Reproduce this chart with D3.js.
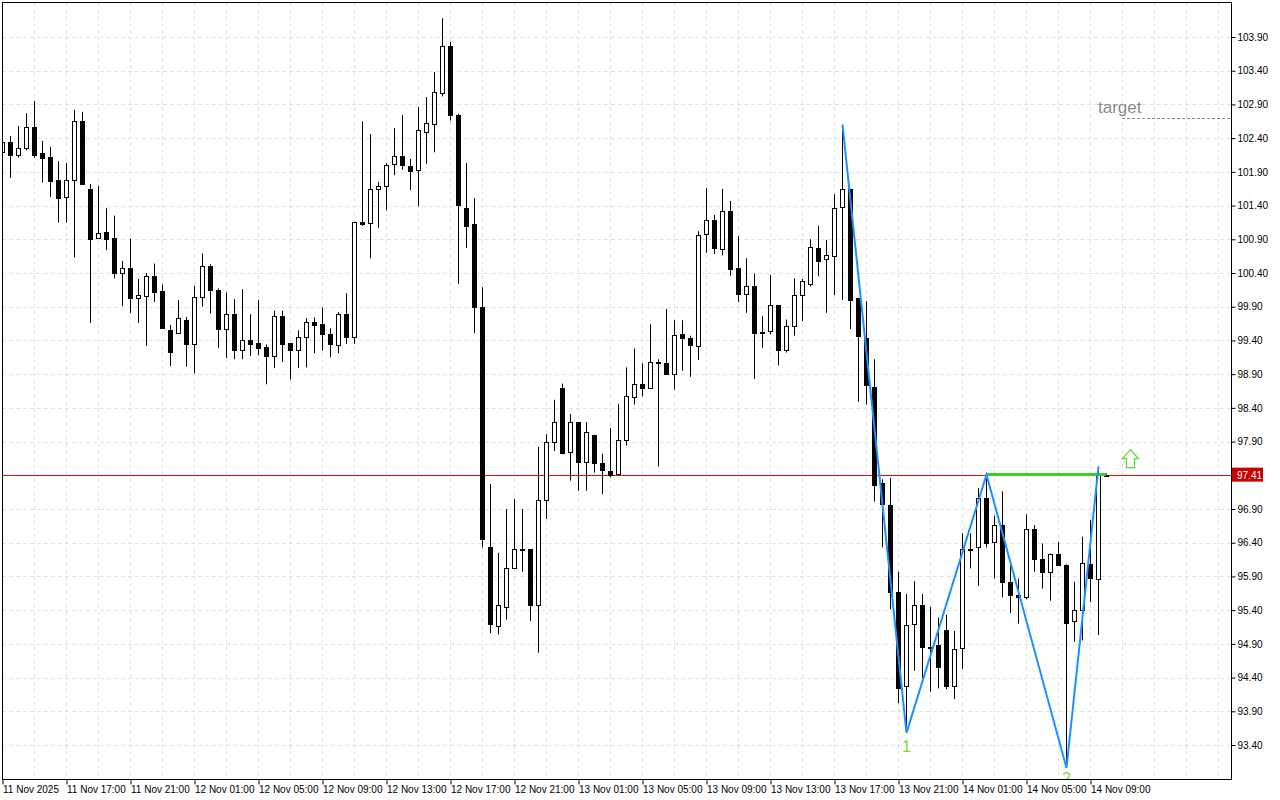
<!DOCTYPE html>
<html>
<head>
<meta charset="utf-8">
<script src="https://cdn.jsdelivr.net/npm/d3@7/dist/d3.min.js"></script>
<style>
  body { margin: 0; background: #fff; }
  svg { display: block; font-family: "Liberation Sans", Arial, sans-serif; }
</style>
</head>
<body>
<svg id="chart" width="1280" height="800"></svg>
<script>
// velas de 30 min, desde 11 Nov 13:00
const opens  = [102.19,102.34,102.15,102.25,102.56,102.18,102.12,101.78,101.53,101.77,102.65,101.65,100.91,101.01,100.92,100.40,100.48,100.03,100.06,100.35,100.13,99.55,99.51,99.71,99.35,100.04,100.50,100.15,99.57,99.79,99.26,99.41,99.36,99.30,99.16,99.76,99.36,99.26,99.45,99.67,99.64,99.49,99.33,99.79,99.45,101.16,101.14,101.65,101.69,102.01,102.13,101.99,101.92,102.50,102.62,103.06,103.76,102.74,101.37,101.13,99.90,96.34,95.16,95.44,96.02,96.30,96.30,95.47,97.03,97.89,98.69,97.75,98.19,97.60,98.00,97.58,97.47,97.41,97.92,98.57,98.76,98.70,99.08,99.06,98.90,99.49,99.43,99.32,100.97,101.18,100.76,101.32,100.47,100.08,100.20,99.52,99.54,99.92,99.26,99.61,100.07,100.23,100.77,100.60,100.66,101.39,101.65,100.03,99.43,98.71,97.28,96.96,95.67,94.27,95.19,95.47,94.86,94.88,95.11,94.28,94.83,96.31,96.34,97.07,96.41,96.66,95.81,95.62,95.59,96.60,96.16,95.96,96.23,96.07,95.23,95.41,96.08,95.87,97.41]
const highs  = [102.52,102.43,102.58,102.77,102.95,102.36,102.27,102.06,102.03,102.82,102.79,101.72,101.69,101.36,101.25,100.58,100.91,100.31,100.40,100.54,100.23,99.63,100.00,99.75,100.21,100.69,100.53,100.17,100.11,100.01,100.16,99.79,100.00,99.34,99.84,99.84,99.36,99.55,99.73,99.74,99.89,99.58,99.82,100.10,101.16,102.65,102.46,101.75,102.03,102.55,102.74,102.09,102.86,103.01,103.38,104.18,103.83,102.76,102.03,101.51,100.19,97.27,96.25,96.90,97.05,96.90,96.30,97.82,98.01,98.52,98.76,98.31,98.19,98.19,98.00,97.72,98.10,98.46,99.00,99.28,99.06,99.64,99.12,99.87,99.70,99.70,99.47,101.02,101.66,101.26,101.65,101.47,100.95,100.62,100.39,99.76,100.37,99.92,99.71,100.32,100.31,100.90,101.10,100.89,101.57,102.60,101.65,100.03,99.98,99.12,97.34,97.36,95.97,95.64,95.83,95.64,95.45,95.29,95.33,95.09,96.54,96.54,97.21,97.41,96.80,97.16,96.12,95.87,96.82,96.66,96.39,96.24,96.41,96.08,95.82,96.49,96.74,97.53,97.43]
const lows   = [102.08,101.81,102.11,102.22,102.11,101.74,101.53,101.15,101.15,100.63,101.71,99.66,100.91,100.74,100.32,99.91,99.81,99.66,99.32,99.97,99.58,99.02,99.50,99.01,98.91,99.90,99.80,99.29,99.14,99.12,99.12,99.17,99.18,98.75,98.99,99.08,98.82,98.99,99.00,99.21,99.25,99.15,99.21,99.35,99.35,101.10,100.62,101.07,101.33,101.85,101.93,101.63,101.39,102.02,102.19,103.02,102.66,100.24,100.77,99.51,96.33,95.06,95.04,95.26,96.02,95.97,95.24,94.77,96.75,97.76,97.71,97.32,97.17,97.17,97.44,97.12,97.37,97.41,97.84,98.45,98.57,98.70,97.53,98.90,98.67,98.95,98.86,99.11,100.70,100.68,100.66,100.36,99.97,99.81,98.83,99.29,99.49,99.03,99.22,99.47,99.69,100.20,100.35,99.81,100.07,100.00,99.57,98.49,98.45,97.01,96.33,95.41,94.02,93.58,94.50,94.39,94.19,94.24,94.23,94.08,94.53,96.02,95.76,96.33,95.87,95.59,95.36,95.20,95.56,95.97,95.72,95.54,96.06,93.06,94.93,94.95,95.52,95.03,97.40]
const closes = [102.34,102.15,102.25,102.56,102.15,102.11,101.77,101.52,101.78,102.65,101.71,100.91,100.99,100.91,100.40,100.48,100.03,100.07,100.35,100.12,99.58,99.23,99.73,99.35,100.05,100.50,100.14,99.57,99.79,99.26,99.41,99.35,99.29,99.16,99.76,99.35,99.26,99.45,99.67,99.63,99.49,99.34,99.79,99.45,101.15,101.13,101.65,101.69,102.00,102.13,101.99,101.92,102.52,102.63,103.09,103.76,102.73,101.40,101.11,99.90,96.46,95.20,95.47,96.02,96.30,96.29,95.47,97.03,97.89,98.19,97.73,98.19,97.60,98.04,97.58,97.47,97.41,97.92,98.57,98.76,98.70,99.08,99.07,98.90,99.48,99.43,99.32,100.97,101.18,100.76,101.32,100.46,100.08,100.20,99.51,99.53,99.92,99.26,99.61,100.07,100.28,100.78,100.58,100.66,101.37,101.65,100.01,99.46,98.73,97.26,96.97,95.67,94.25,95.18,95.47,94.85,94.84,94.56,94.28,94.83,96.30,96.29,97.07,96.40,96.66,95.81,95.61,95.59,96.60,96.15,95.96,96.23,96.06,95.21,95.40,96.10,95.87,97.41,97.41]

const priceTicks = [103.90,103.40,102.90,102.40,101.90,101.40,100.90,100.40,99.90,99.40,98.90,98.40,97.90,97.40,96.90,96.40,95.90,95.40,94.90,94.40,93.90,93.40]
const timeTickIdx = [0,8,16,24,32,40,48,56,64,72,80,88,96,104,112,120,128,136]
const timeTickLabels = ["11 Nov 2025","11 Nov 17:00","11 Nov 21:00","12 Nov 01:00","12 Nov 05:00","12 Nov 09:00","12 Nov 13:00","12 Nov 17:00","12 Nov 21:00","13 Nov 01:00","13 Nov 05:00","13 Nov 09:00","13 Nov 13:00","13 Nov 17:00","13 Nov 21:00","14 Nov 01:00","14 Nov 05:00","14 Nov 09:00"]

// zigzag: indices de vela y si es alto o bajo
const zigIdx  = [105,113,123,133,137]
const zigType = ["h","l","h","l","h"]
const zigLabels = [{i:113, t:"1"},{i:133, t:"2"}]
const lastPrice = 97.41
const targetPrice = 102.70

const candles = opens.map((o, i) => ({ i, o, h: highs[i], l: lows[i], c: closes[i] }))

const pL = 2, pR = 1231, pT = 2, pB = 779
const svg = d3.select("#chart")

const x = d3.scaleLinear().domain([0, 1]).range([2.5, 10.5])
const y = d3.scaleLinear().domain([93.40, 103.90]).range([745, 37])

svg.append("clipPath").attr("id", "clip")
  .append("rect").attr("x", pL).attr("y", pT).attr("width", pR - pL).attr("height", pB - pT)
const plot = svg.append("g").attr("clip-path", "url(#clip)")

// grid
plot.selectAll(".hg").data(priceTicks).join("line")
  .attr("x1", pL).attr("x2", pR)
  .attr("y1", d => Math.round(y(d)) + 0.5).attr("y2", d => Math.round(y(d)) + 0.5)
  .attr("stroke", "#e2e2e2").attr("stroke-dasharray", "4,3")
plot.selectAll(".vg").data(d3.range(4, 154, 4)).join("line")
  .attr("x1", d => x(d)).attr("x2", d => x(d))
  .attr("y1", pT).attr("y2", pB)
  .attr("stroke", "#e2e2e2").attr("stroke-dasharray", "4,3")

// linea de precio actual
plot.append("line")
  .attr("x1", pL).attr("x2", pR)
  .attr("y1", Math.round(y(lastPrice)) + 0.5).attr("y2", Math.round(y(lastPrice)) + 0.5)
  .attr("stroke", "#ff0000").attr("shape-rendering", "crispEdges")

// velas
const cg = plot.append("g")
cg.selectAll("line").data(candles).join("line")
  .attr("x1", d => x(d.i)).attr("x2", d => x(d.i))
  .attr("y1", d => y(d.h)).attr("y2", d => y(d.l))
  .attr("stroke", "#000").attr("stroke-width", 1)
cg.selectAll("rect").data(candles).join("rect")
  .attr("x", d => x(d.i) - 2)
  .attr("y", d => Math.round(y(Math.max(d.o, d.c))) + 0.5)
  .attr("width", 4)
  .attr("height", d => Math.max(1, Math.round(Math.abs(y(d.o) - y(d.c)))))
  .attr("fill", d => d.c >= d.o ? "#fff" : "#000")
  .attr("stroke", "#000")

// linea verde de ruptura
const zigPts = zigIdx.map((k, j) => [x(k), y(zigType[j] === "h" ? highs[k] : lows[k])])
plot.append("line")
  .attr("x1", x(zigIdx[2])).attr("x2", x(opens.length - 1))
  .attr("y1", y(lastPrice)).attr("y2", y(lastPrice))
  .attr("stroke", "#3ccc2c").attr("stroke-width", 3)

// zigzag
plot.append("path")
  .attr("d", d3.line()(zigPts))
  .attr("fill", "none").attr("stroke", "#1e90ff").attr("stroke-width", 2)

plot.selectAll(".zl").data(zigLabels).join("text")
  .attr("x", d => x(d.i)).attr("y", d => Math.min(y(lows[d.i]) + 19, 784))
  .attr("text-anchor", "middle").attr("font-size", 16)
  .attr("fill", "#8bd43a").text(d => d.t)

// target
plot.append("line")
  .attr("x1", 1122).attr("x2", pR)
  .attr("y1", Math.round(y(targetPrice)) + 0.5).attr("y2", Math.round(y(targetPrice)) + 0.5)
  .attr("stroke", "#888").attr("stroke-dasharray", "3,2")
plot.append("text")
  .attr("x", 1098).attr("y", y(targetPrice) - 5)
  .attr("font-size", 17).attr("fill", "#8a8a8a").text("target")

// flecha arriba
const ax = 1130.5, ay = y(lastPrice) - 7
plot.append("path")
  .attr("d", `M${ax},${ay - 18} L${ax + 8},${ay - 9} L${ax + 4},${ay - 9} L${ax + 4},${ay} L${ax - 4},${ay} L${ax - 4},${ay - 9} L${ax - 8},${ay - 9} Z`)
  .attr("fill", "#fff").attr("stroke", "#5fd83a").attr("stroke-width", 1.3)

// marco
svg.append("rect").attr("x", pL + 0.5).attr("y", pT + 0.5)
  .attr("width", pR - pL).attr("height", pB - pT)
  .attr("fill", "none").attr("stroke", "#000")

// eje derecho
const yAxis = svg.append("g").attr("transform", `translate(${pR + 0.5},0)`)
  .call(d3.axisRight(y).tickValues(priceTicks).tickSize(4).tickFormat(d3.format(".2f")))
yAxis.select(".domain").remove()
yAxis.selectAll("text").attr("font-size", 10).attr("font-family", "Liberation Sans").attr("fill", "#000").attr("x", 6)

// etiqueta de precio
svg.append("rect").attr("x", 1232).attr("y", y(lastPrice) - 7).attr("width", 31).attr("height", 14).attr("fill", "#c80000")
svg.append("text").attr("x", 1237).attr("y", y(lastPrice) + 4)
  .attr("font-size", 10).attr("fill", "#fff").text(d3.format(".2f")(lastPrice))

// eje inferior
const xAxis = svg.append("g").attr("transform", `translate(0,${pB + 0.5})`)
  .call(d3.axisBottom(x).tickValues(timeTickIdx).tickSize(5)
    .tickFormat((d, i) => timeTickLabels[i]))
xAxis.select(".domain").remove()
xAxis.selectAll("text").attr("font-size", 10).attr("font-family", "Liberation Sans")
  .attr("fill", "#000").attr("text-anchor", "start").attr("dx", 0).attr("y", 5).attr("dy", "0.85em")
</script>
</body>
</html>
